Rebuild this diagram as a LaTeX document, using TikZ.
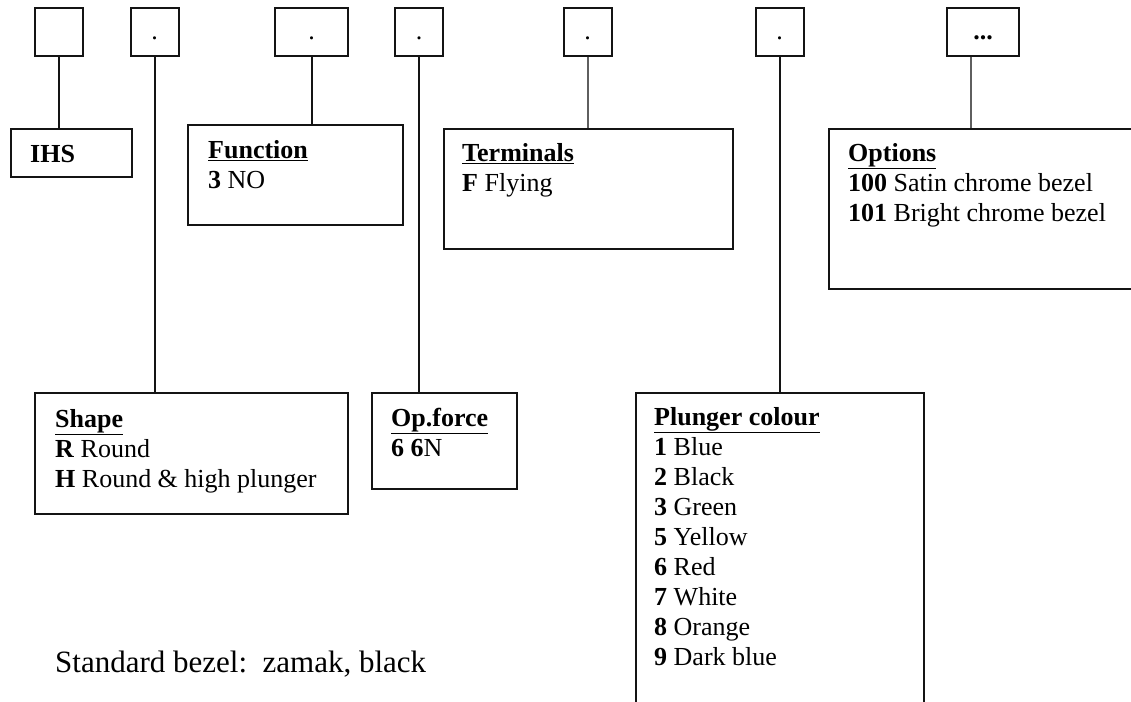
\documentclass[tikz,border=0pt]{standalone}
\usepackage{fontspec}
\setmainfont{Liberation Serif}
\usetikzlibrary{
  positioning,
  calc}
\definecolor{linecolor}{RGB}{20,20,20}
\definecolor{softcolor}{RGB}{95,95,95}
\tikzset{
  %% digit : one position of the order code
  digit/.style={
    rectangle,
    draw=linecolor,
    line width=2pt,
    minimum width=48pt,
    minimum height=48pt,
    inner sep=0pt,
    text height=18pt,
    text depth=2pt,
    font=\fontsize{26}{30}\selectfont
  },
  %% field : box that explains one position
  field/.style={
    rectangle,
    draw=linecolor,
    line width=2pt,
    anchor=north west,
    inner sep=0pt
  },
  %% fieldtext : the lines inside a field
  %% (the strut puts the first baseline 20pt below the top)
  fieldtext/.style={
    anchor=north west,
    inner sep=0pt,
    align=left,
    font=\fontsize{26}{30}\selectfont,
    execute at begin node={\rule{0pt}{20pt}}
  },
  %% link : from a position down to its field
  link/.style={draw=linecolor, line width=2pt},
  softlink/.style={link, draw=softcolor}
}
\newcommand{\fieldhead}[1]{\underline{\textbf{#1}}}

\begin{document}
\begin{tikzpicture}
  [x=1pt,
  y=-1pt]
  \useasboundingbox (0,0) rectangle (1131,701);

  %% Positions of the code
  \node (b1) [digit] at (59,32) {};
  \node (b2) [digit] at (154.5,32) {.};
  \node (b3) [digit, minimum width=73pt] at (311.5,32) {.};
  \node (b4) [digit] at (419,32) {.};
  \node (b5) [digit] at (587.5,32) {.};
  \node (b6) [digit] at (779.5,32) {.};
  \node (b7) [digit, minimum width=72pt] at (983,32) {\textbf{...}};

  %% Fields
  \node (ihs) [field, minimum width=121pt, minimum height=48pt] at (10,128) {};
  \node (fn) [field, minimum width=215pt, minimum height=100pt] at (187,124) {};
  \node (term) [field, minimum width=289pt, minimum height=120pt] at (443,128) {};
  \node (options) [field, minimum width=320pt, minimum height=160pt] at (828,128) {};
  \node (shape) [field, minimum width=313pt, minimum height=121pt] at (34,392) {};
  \node (opforce) [field, minimum width=145pt, minimum height=96pt] at (371,392) {};
  \node (plunger) [field, minimum width=288pt, minimum height=330pt] at (635,392) {};

  %% Texts of the fields
  \node (ihstext) [fieldtext] at ($(ihs.north west)+(20,14)$) {%
    \textbf{IHS}
  };
  \node (fntext) [fieldtext] at ($(fn.north west)+(21,16)$) {%
    \fieldhead{Function}\\
    \textbf{3} NO
  };
  \node (termtext) [fieldtext] at ($(term.north west)+(19,15)$) {%
    \fieldhead{Terminals}\\
    \textbf{F} Flying
  };
  \node (optionstext) [fieldtext] at ($(options.north west)+(20,15)$) {%
    \fieldhead{Options}\\
    \textbf{100} Satin chrome bezel\\
    \textbf{101} Bright chrome bezel
  };
  \node (shapetext) [fieldtext] at ($(shape.north west)+(21,17)$) {%
    \fieldhead{Shape}\\
    \textbf{R} Round\\
    \textbf{H} Round \& high plunger
  };
  \node (opforcetext) [fieldtext] at ($(opforce.north west)+(20,16)$) {%
    \fieldhead{Op.force}\\
    \textbf{6} \textbf{6}N
  };
  \node (plungertext) [fieldtext] at ($(plunger.north west)+(19,15)$) {%
    \fieldhead{Plunger colour}\\
    \textbf{1} Blue\\
    \textbf{2} Black\\
    \textbf{3} Green\\
    \textbf{5} Yellow\\
    \textbf{6} Red\\
    \textbf{7} White\\
    \textbf{8} Orange\\
    \textbf{9} Dark blue
  };

  %% Note
  \node (bezelnote) [anchor=base west, inner sep=0pt,
    font=\fontsize{31}{36}\selectfont] at (55,672) {%
    Standard bezel:\ \ zamak, black
  };

  %% Connections
  \draw [link] (b1) -- (b1 |- ihs.north);
  \draw [link] (b2) -- (b2 |- shape.north);
  \draw [link] (b3) -- (b3 |- fn.north);
  \draw [link] (b4) -- (b4 |- opforce.north);
  \draw [softlink] (b5) -- (b5 |- term.north);
  \draw [link] (b6) -- (b6 |- plunger.north);
  \draw [softlink] ([xshift=-12pt]b7.south) -- ([xshift=-12pt]b7.south |- options.north);

\end{tikzpicture}
\end{document}
